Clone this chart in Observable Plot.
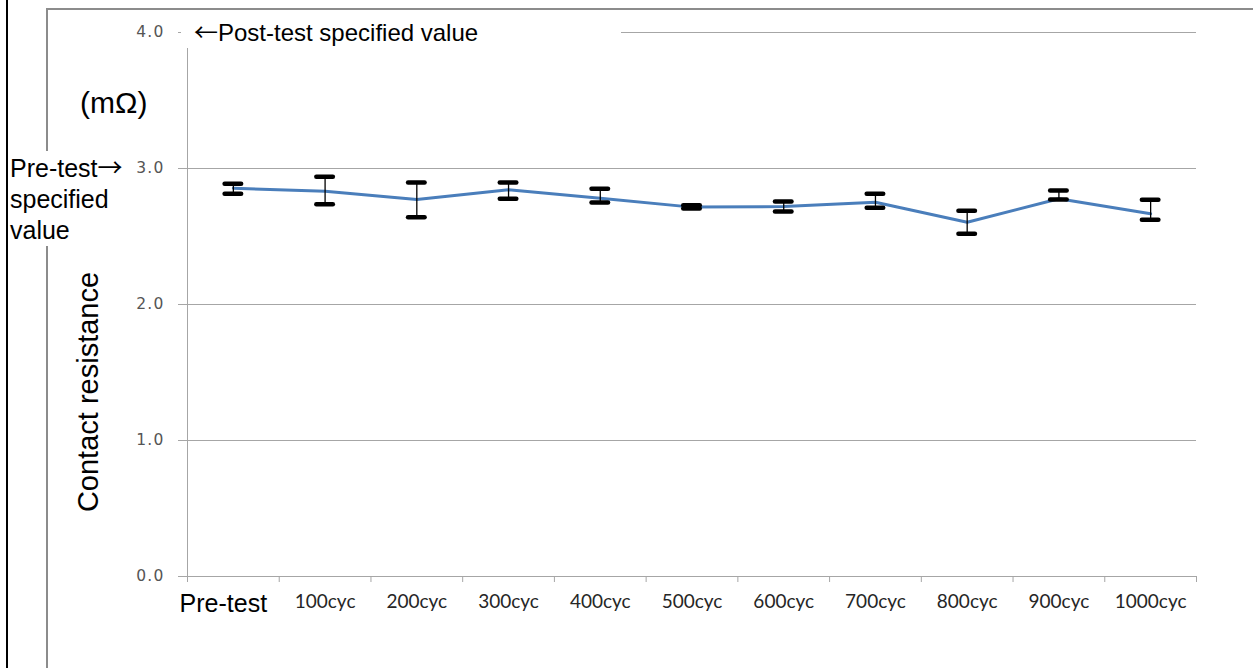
<!DOCTYPE html>
<html>
<head>
<meta charset="utf-8">
<script src="https://cdn.jsdelivr.net/npm/d3@7"></script>
<script src="https://cdn.jsdelivr.net/npm/@observablehq/plot@0.6"></script>
<style>
  body { margin: 0; background: #fff; }
  #wrap { position: relative; width: 1253px; height: 668px; overflow: hidden; font-family: "Liberation Sans", Arial, sans-serif; }
  #chart { position: absolute; left: 0; top: 0; }
  #chart svg { display: block; background: transparent; }
  .lbl { position: absolute; color: #000; white-space: nowrap; }
  .arr { font-family: "Noto Sans CJK JP", sans-serif; }
  g[aria-label="y-axis tick label"] text { letter-spacing: 1.2px; }
</style>
</head>
<body>
<div id="wrap">
  <div style="position:absolute;left:6px;top:0;width:0;height:668px;border-left:2px solid #000"></div>
  <div style="position:absolute;left:46px;top:8px;right:0;height:680px;border-left:2px solid #8c8c8c;border-top:2px solid #8c8c8c"></div>
  <div id="chart"></div>
  <div class="lbl" style="left:181px;top:17px;width:440px;height:31px;background:#fff;font-size:24px;line-height:27px;padding-left:13px;box-sizing:border-box"><span class="arr">←</span>Post-test specified value</div>
  <div class="lbl" style="left:80px;top:88px;font-size:30px;line-height:1">(mΩ)</div>
  <div class="lbl" style="left:10px;top:151px;width:122px;height:95px;background:#fff;font-size:25px;line-height:31px">Pre-test<span class="arr">→</span><br>specified<br>value</div>
  <div class="lbl" style="left:88px;top:392px;font-size:29px;line-height:1;transform:translate(-50%,-50%) rotate(-90deg)">Contact resistance</div>
</div>
<script>
const categories = ["Pre-test", "100cyc", "200cyc", "300cyc", "400cyc", "500cyc", "600cyc", "700cyc", "800cyc", "900cyc", "1000cyc"];
const meanValues = [2.855, 2.833, 2.772, 2.843, 2.782, 2.716, 2.720, 2.752, 2.605, 2.777, 2.667];
const maxValues  = [2.888, 2.939, 2.897, 2.897, 2.851, 2.730, 2.757, 2.814, 2.689, 2.838, 2.770];
const minValues  = [2.814, 2.738, 2.642, 2.777, 2.750, 2.706, 2.684, 2.711, 2.520, 2.772, 2.623];
const yTicks = [0, 1, 2, 3, 4];

const rows = categories.map((c, i) => ({i, cat: c, mean: meanValues[i], hi: maxValues[i], lo: minValues[i]}));
const boundaries = d3.range(categories.length + 1).map(k => k - 0.5);
const GRID = "#a6a6a6";
const CAP = 0.09;

const chart = Plot.plot({
  width: 1253,
  height: 668,
  marginLeft: 187,
  marginRight: 57,
  marginTop: 32,
  marginBottom: 92,
  x: {type: "linear", domain: [-0.5, categories.length - 0.5]},
  y: {domain: [0, 4]},
  style: {background: "transparent", overflow: "visible"},
  marks: [
    Plot.gridY(yTicks.filter(d => d > 0), {stroke: GRID, strokeOpacity: 1}),
    Plot.ruleY([0], {stroke: GRID}),
    Plot.ruleX([-0.5], {y1: 0, y2: 4, stroke: GRID}),
    Plot.axisY(yTicks, {tickSize: 9, tickPadding: 14, tickFormat: d3.format(".1f"), stroke: GRID, strokeOpacity: 1, fill: "#555", fontSize: 15.5, fontFamily: "DejaVu Sans", label: null}),
    Plot.axisX(boundaries, {tickSize: 6, stroke: GRID, strokeOpacity: 1, tickFormat: () => "", label: null}),
    Plot.axisX(d3.range(1, categories.length), {tickSize: 0, tickPadding: 18, tickFormat: i => categories[i], fontSize: 19, fontFamily: "Lato", fill: "#262626", label: null}),
    Plot.axisX([0], {tickSize: 0, tickPadding: 18, dx: -10, tickFormat: i => categories[i], fontSize: 25, fontFamily: "Liberation Sans", fill: "#000", label: null}),
    Plot.line(rows, {x: "i", y: "mean", stroke: "#4a7ebb", strokeWidth: 3}),
    Plot.ruleX(rows, {x: "i", y1: "lo", y2: "hi", stroke: "#000", strokeWidth: 1.3}),
    Plot.ruleY(rows, {y: "hi", x1: d => d.i - CAP, x2: d => d.i + CAP, stroke: "#000", strokeWidth: 4.5, strokeLinecap: "round"}),
    Plot.ruleY(rows, {y: "lo", x1: d => d.i - CAP, x2: d => d.i + CAP, stroke: "#000", strokeWidth: 4.5, strokeLinecap: "round"})
  ]
});
document.getElementById("chart").appendChild(chart);
</script>
</body>
</html>
